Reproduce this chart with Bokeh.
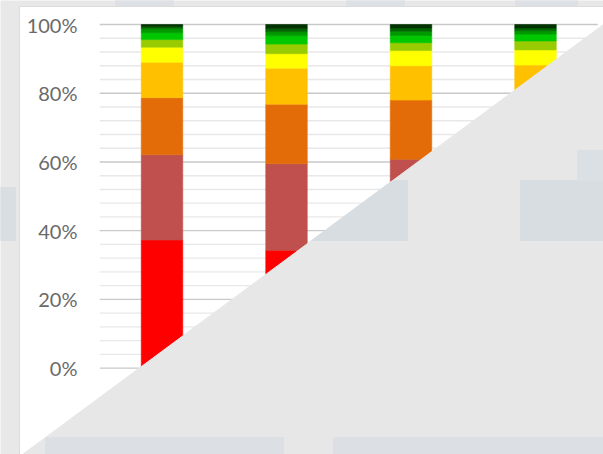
from bokeh.plotting import figure
from bokeh.models import ColumnDataSource, Range1d, FixedTicker, PrintfTickFormatter
from bokeh.embed import file_html
from bokeh.resources import INLINE

# --- data: share of each rating band per column (percent, bottom to top) ---
columns = ["A", "B", "C", "D"]
bands = ["r1", "r2", "r3", "r4", "r5", "r6", "r7", "r8", "r9", "r10"]
band_colors = ["#FF0000", "#C0504D", "#E36C09", "#FFC000", "#FFFF00",
               "#99CC00", "#00C800", "#009900", "#006600", "#003300"]
r1 = [37.3, 34.3, 35.3, 35.0]
r2 = [24.8, 25.2, 25.5, 25.9]
r3 = [16.6, 17.3, 17.2, 17.0]
r4 = [10.3, 10.5, 10.0, 10.3]
r5 = [4.4, 4.2, 4.4, 4.4]
r6 = [2.2, 2.8, 2.3, 2.6]
r7 = [2.0, 2.4, 2.1, 2.0]
r8 = [1.2, 1.2, 1.2, 1.0]
r9 = [0.6, 0.9, 1.0, 0.8]
r10 = [0.6, 1.2, 1.0, 1.0]
y_ticks = [0, 20, 40, 60, 80, 100]
minor_ticks = list(range(0, 101, 4))

W, H = 603, 454

# page layout: pixel placement of the plot region mapped onto data units
X0_PX, X_STEP_PX = 99.25, 124.5      # left edge of the category band, width per column
Y0_PX, Y_PX_PER_PCT = 367.7, 3.437   # baseline pixel row, pixels per percent


def fx(px):
    return (px - X0_PX) / X_STEP_PX


def fy(py):
    return (Y0_PX - py) / Y_PX_PER_PCT


p = figure(width=W, height=H, output_backend="svg", toolbar_location=None,
           x_range=Range1d(fx(0), fx(W)), y_range=Range1d(fy(H), fy(0)),
           x_axis_location=None, min_border=0)
p.outline_line_color = None
p.background_fill_color = "#e8e8e8"
p.border_fill_color = "#e8e8e8"
p.grid.visible = False

# slide backdrop: white chart panel and faint blue-grey shapes around it
p.quad(left=fx(19), right=fx(W), top=fy(6), bottom=fy(H), color="white",
       line_color="#dcdcdc", line_width=1)
p.quad(left=[fx(115), fx(346), fx(515)], right=[fx(173), fx(404), fx(577)],
       top=fy(0), bottom=fy(5), color="#dde1e6")
p.quad(left=fx(0), right=fx(15), top=fy(187), bottom=fy(240), color="#d9dee3")

# gridlines across the category band
minor_only = [t for t in minor_ticks if t not in y_ticks]
p.segment(x0=0, x1=len(columns), y0=minor_only, y1=minor_only,
          line_color="#e8e8e8", line_width=1.3)
p.segment(x0=0, x1=len(columns), y0=y_ticks, y1=y_ticks,
          line_color="#c9c9c9", line_width=1.3)

# 100% stacked columns
source = ColumnDataSource(dict(
    x=[i + 0.5 for i in range(len(columns))],
    r1=r1, r2=r2, r3=r3, r4=r4, r5=r5, r6=r6, r7=r7, r8=r8, r9=r9, r10=r10))
p.vbar_stack(bands, x="x", width=41.5 / X_STEP_PX, color=band_colors,
             line_width=0.6, source=source)

# diagonal grey page fold over the lower right
fold_x = [fx(22), fx(W), fx(W)]
fold_y = [fy(H), fy(24), fy(H)]
p.patch(fold_x, fold_y, color="#e7e7e7")


def diag_x(py):
    return 22 + (454 - py) / 0.740


SHADE = "#d8dde2"
p.patch([fx(diag_x(180)), fx(407), fx(407), fx(diag_x(240))],
        [fy(180), fy(180), fy(240), fy(240)], color=SHADE)
p.quad(left=fx(520), right=fx(W), top=fy(180), bottom=fy(240), color=SHADE)
p.quad(left=fx(577), right=fx(W), top=fy(150), bottom=fy(180), color="#dbe0e5")
p.quad(left=[fx(diag_x(437)), fx(333)], right=[fx(283), fx(W)],
       top=fy(437), bottom=fy(H), color="#dce0e4")

# percentage axis sitting beside the gridlines
ax = p.yaxis[0]
ax.fixed_location = fx(84)
ax.ticker = FixedTicker(ticks=y_ticks)
ax.formatter = PrintfTickFormatter(format="%d%%")
ax.axis_line_color = None
ax.major_tick_line_color = None
ax.minor_tick_line_color = None
ax.major_tick_out = 0
ax.major_tick_in = 0
ax.major_label_standoff = 7
ax.major_label_text_font = "Lato"
ax.major_label_text_font_size = "20px"
ax.major_label_text_color = "#6a6a6a"

open("out.html", "w").write(file_html(p, INLINE))
